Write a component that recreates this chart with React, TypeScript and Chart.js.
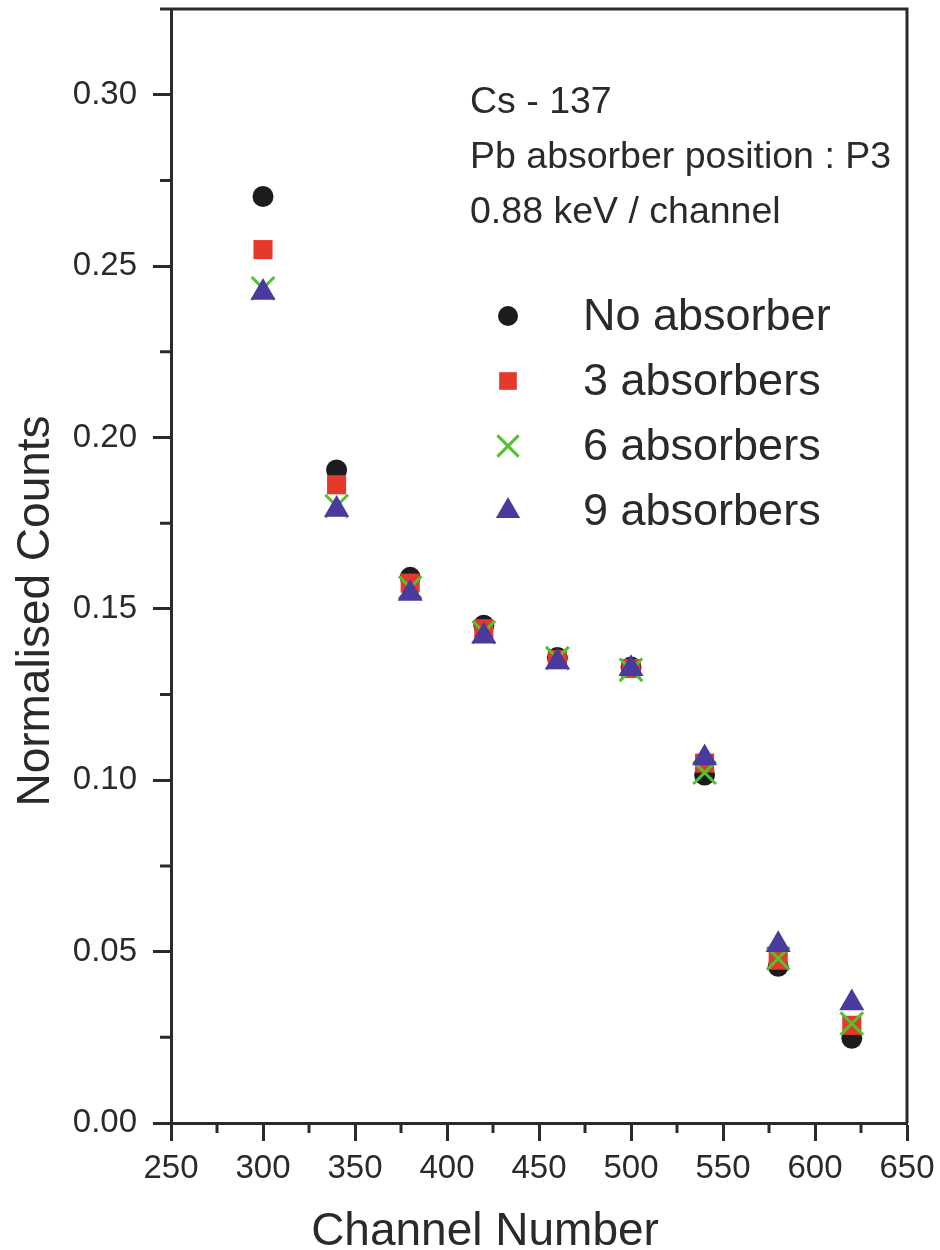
import React, { useEffect, useRef } from 'react';
import { Chart, registerables } from 'chart.js';
import { drawPoint } from 'chart.js/helpers';

Chart.register(...registerables);

// ---- data ----
const channels = [300, 340, 380, 420, 460, 500, 540, 580, 620];
const noAbsorber = [0.2703, 0.1905, 0.1592, 0.1452, 0.1358, 0.1330, 0.1015, 0.0457, 0.0247];
const absorbers3 = [0.2548, 0.1862, 0.1575, 0.1442, 0.1352, 0.1326, 0.1050, 0.0475, 0.0285];
const absorbers6 = [0.2435, 0.1800, 0.1562, 0.1432, 0.1356, 0.1322, 0.1022, 0.0480, 0.0290];
const absorbers9 = [0.2423, 0.1790, 0.1545, 0.1420, 0.1345, 0.1325, 0.1065, 0.0520, 0.0350];
const seriesLabels = ['No absorber', '3 absorbers', '6 absorbers', '9 absorbers'];
const infoLines = ['Cs - 137', 'Pb absorber position : P3', '0.88 keV / channel'];
const xTitle = 'Channel Number';
const yTitle = 'Normalised Counts';
const xMinorTicks = [275, 325, 375, 425, 475, 525, 575, 625];
const yMinorTicks = [0.025, 0.075, 0.125, 0.175, 0.225, 0.275, 0.325];

const FONT = "'Liberation Sans', Arial, Helvetica, sans-serif";
const INK = '#2a2a2a';
const colors = ['#1c1c1e', '#e5392b', '#52c22e', '#4a3a9e'];
const styles = ['circle', 'rect', 'crossRot', 'triangle'];
const radii = [10.5, 13.5, 16, 14.5];
const legendRadii = [10, 12.5, 15, 14];

const zeroPad = (s: any) => {
  s.paddingTop = 0;
  s.paddingBottom = 0;
  s.paddingLeft = 0;
  s.paddingRight = 0;
};

const decorPlugin = {
  id: 'decor',
  afterDraw(chart: any) {
    const { ctx, chartArea } = chart;
    const xs = chart.scales.x;
    const ys = chart.scales.y;
    ctx.save();
    ctx.strokeStyle = INK;
    ctx.lineWidth = 3;
    ctx.lineCap = 'butt';
    // minor ticks
    ctx.beginPath();
    xMinorTicks.forEach((v) => {
      const px = xs.getPixelForValue(v);
      ctx.moveTo(px, chartArea.bottom);
      ctx.lineTo(px, chartArea.bottom + 10);
    });
    yMinorTicks.forEach((v) => {
      const py = ys.getPixelForValue(v);
      ctx.moveTo(chartArea.left, py);
      ctx.lineTo(chartArea.left - 11, py);
    });
    ctx.stroke();
    // top / right frame
    ctx.beginPath();
    ctx.moveTo(chartArea.left, chartArea.top);
    ctx.lineTo(chartArea.right, chartArea.top);
    ctx.lineTo(chartArea.right, chartArea.bottom);
    ctx.stroke();

    // axis titles
    ctx.fillStyle = INK;
    ctx.font = `46px ${FONT}`;
    ctx.textAlign = 'center';
    ctx.textBaseline = 'alphabetic';
    ctx.fillText(xTitle, 485, 1245);
    ctx.save();
    ctx.translate(49, 611);
    ctx.rotate(-Math.PI / 2);
    ctx.fillText(yTitle, 0, 0);
    ctx.restore();

    // info text
    ctx.font = `37.5px ${FONT}`;
    ctx.textAlign = 'left';
    ctx.textBaseline = 'alphabetic';
    infoLines.forEach((t, i) => {
      ctx.fillText(t, 470, 113 + i * 55);
    });

    // legend
    ctx.font = `45px ${FONT}`;
    ctx.textBaseline = 'middle';
    seriesLabels.forEach((t, i) => {
      const y = 316 + i * 65;
      ctx.fillStyle = colors[i];
      ctx.strokeStyle = colors[i];
      ctx.lineWidth = 3;
      drawPoint(ctx, {
        pointStyle: styles[i],
        radius: legendRadii[i],
        rotation: 0,
        borderWidth: styles[i] === 'crossRot' ? 3 : 0,
      } as any, 508, y);
      ctx.fillStyle = INK;
      ctx.fillText(t, 583, y + 2);
    });
    ctx.restore();
  },
};

export default function App() {
  const ref = useRef<HTMLCanvasElement | null>(null);
  useEffect(() => {
    if (!ref.current) return;
    const series = [noAbsorber, absorbers3, absorbers6, absorbers9];
    const datasets = series.map((vals, i) => ({
      label: seriesLabels[i],
      data: channels.map((x, j) => ({ x, y: vals[j] })),
      pointStyle: styles[i],
      pointRadius: radii[i],
      backgroundColor: colors[i],
      borderColor: colors[i],
      borderWidth: styles[i] === 'crossRot' ? 3 : 0,
      showLine: false,
      order: 4 - i,
    }));
    const chart = new Chart(ref.current, {
      type: 'scatter',
      data: { datasets: datasets as any },
      options: {
        responsive: false,
        animation: false,
        events: [],
        layout: { autoPadding: false, padding: { top: 9, right: 33, left: 0, bottom: 0 } },
        plugins: { legend: { display: false }, tooltip: { enabled: false } },
        scales: {
          x: {
            type: 'linear',
            min: 250,
            max: 650,
            afterFit: (s: any) => {
              s.height = 127;
              zeroPad(s);
            },
            ticks: {
              stepSize: 50,
              autoSkip: false,
              maxRotation: 0,
              color: INK,
              padding: 8,
              font: { family: FONT, size: 33 },
              callback: (v: any) => String(Math.round(Number(v))),
            },
            grid: {
              drawOnChartArea: false,
              drawTicks: true,
              tickLength: 18,
              tickWidth: 3,
              tickColor: INK,
            },
            border: { display: true, color: INK, width: 3 },
            title: { display: false, text: xTitle },
          },
          y: {
            type: 'linear',
            min: 0,
            max: 0.325,
            afterFit: (s: any) => {
              s.width = 171;
              zeroPad(s);
            },
            ticks: {
              stepSize: 0.025,
              autoSkip: false,
              color: INK,
              padding: 16,
              font: { family: FONT, size: 33 },
              callback: (v: any) => {
                const m = Math.round(Number(v) * 1000);
                return m % 50 === 0 ? (m / 1000).toFixed(2) : null;
              },
            },
            grid: {
              drawOnChartArea: false,
              drawTicks: true,
              tickLength: 18,
              tickWidth: 3,
              tickColor: INK,
            },
            border: { display: true, color: INK, width: 3 },
            title: { display: false, text: yTitle },
          },
        },
      },
      plugins: [decorPlugin as any],
    });
    return () => chart.destroy();
  }, []);
  return (
    <div style={{ position: 'absolute', left: 0, top: 0, width: 940, height: 1250, background: '#fff' }}>
      <canvas ref={ref} width={940} height={1250} style={{ display: 'block' }} />
    </div>
  );
}
